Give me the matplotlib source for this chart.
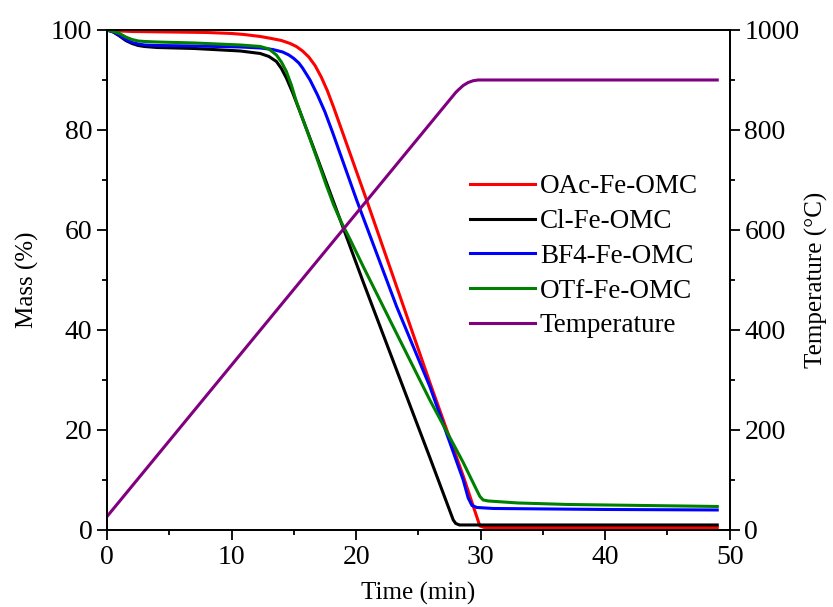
import numpy as np
import matplotlib
matplotlib.use("Agg")
import matplotlib.pyplot as plt
from matplotlib.ticker import MultipleLocator

plt.rcParams["font.family"] = ["Liberation Serif", "DejaVu Serif"]

# TGA curves (time in min, mass in %)
t_oac = [0, 1, 2, 5, 8, 10, 11, 12.3, 13.2, 14.0, 14.7, 15.2, 15.7, 16.2, 16.7,
         17.2, 17.7, 18.2, 18.9, 20.84, 23.25, 25.92, 28.6, 29.6, 29.94, 30.3, 40, 49]
m_oac = [100, 99.8, 99.7, 99.6, 99.5, 99.3, 99.1, 98.7, 98.3, 97.9, 97.3, 96.7, 95.8, 94.6, 92.9,
         90.6, 87.8, 84.5, 79.6, 66.0, 48.7, 29.5, 10.8, 3.3, 0.8, 0.5, 0.5, 0.5]

t_cl = [0, 0.5, 1, 1.5, 2, 2.5, 3, 4, 7, 10.7, 12.3, 13.0, 13.6, 14.0, 14.4, 14.9,
        15.5, 16.5, 18.43, 20.57, 23.25, 25.92, 27.8, 28.0, 28.3, 30, 40, 49]
m_cl = [100, 99.6, 98.8, 97.9, 97.3, 96.9, 96.7, 96.5, 96.3, 95.8, 95.3, 94.7, 93.7, 92.3, 90.4, 87.5,
        83.6, 77.0, 64.0, 49.6, 32.0, 14.5, 2.0, 1.3, 1.0, 1.0, 1.0, 1.0]

t_bf4 = [0, 0.5, 1, 1.5, 2, 2.5, 3, 4, 7, 10.7, 12.3, 13.3, 14.1, 14.6, 15.0, 15.4, 15.7,
         16.3, 16.9, 17.5, 18.1, 20.04, 23.25, 25.92, 28.6, 29.0, 29.3, 29.7, 31, 40, 49]
m_bf4 = [100, 99.6, 98.9, 98.1, 97.5, 97.2, 97.0, 96.9, 96.8, 96.6, 96.4, 96.1, 95.6, 95.0, 94.3, 93.4, 92.4,
         90.0, 87.0, 83.6, 79.6, 66.0, 44.7, 28.7, 10.0, 6.4, 4.9, 4.5, 4.3, 4.1, 4.0]

t_otf = [0, 0.5, 1, 1.5, 2, 2.5, 3, 4, 7, 10.7, 12.3, 13.0, 13.6, 14.0, 14.4, 14.8,
         15.2, 16.3, 17.0, 17.6, 18.2, 18.8, 19.5, 20.57, 23.25, 25.92, 28.6, 29.6, 29.94, 30.2, 30.6,
         33, 37, 49]
m_otf = [100, 99.7, 99.3, 98.6, 98.1, 97.8, 97.7, 97.6, 97.4, 97.0, 96.7, 96.2, 95.0, 93.6, 91.7, 89.0,
         85.7, 78.2, 73.3, 69.0, 65.0, 61.6, 58.2, 52.7, 39.3, 26.0, 13.5, 8.4, 6.7, 6.0, 5.8,
         5.4, 5.1, 4.7]

t_temp = [0, 28, 28.2, 28.6, 29.0, 29.4, 29.8, 30.5, 49]
temp = [27, 875, 880, 889, 895, 898.5, 900, 900, 900]

fig = plt.figure(figsize=(8.33, 6.07), dpi=100)
ax = fig.add_axes([0.1285, 0.1269, 0.7475, 0.8237])
ax2 = ax.twinx()

lw = 2.2
h1, = ax.plot(t_oac, m_oac, color="red", lw=lw, label="OAc-Fe-OMC")
h2, = ax.plot(t_cl, m_cl, color="black", lw=lw, label="Cl-Fe-OMC")
h3, = ax.plot(t_bf4, m_bf4, color="blue", lw=lw, label="BF4-Fe-OMC")
h4, = ax.plot(t_otf, m_otf, color="#008000", lw=lw, label="OTf-Fe-OMC")
h5, = ax2.plot(t_temp, temp, color="#800080", lw=lw, label="Temperature")

ax.set_xlim(0, 50)
ax.set_ylim(0, 100)
ax2.set_ylim(0, 1000)

ax.xaxis.set_major_locator(MultipleLocator(10))
ax.xaxis.set_minor_locator(MultipleLocator(5))
ax.yaxis.set_major_locator(MultipleLocator(20))
ax.yaxis.set_minor_locator(MultipleLocator(10))
ax2.yaxis.set_major_locator(MultipleLocator(200))
ax2.yaxis.set_minor_locator(MultipleLocator(100))

for a in (ax, ax2):
    a.tick_params(which="major", direction="out", length=7, width=1.3, labelsize=20)
    a.tick_params(which="minor", direction="out", length=3.5, width=1.3)
    for s in a.spines.values():
        s.set_linewidth(1.3)

ax.set_xlabel("Time (min)", fontsize=18, labelpad=9)
ax.set_ylabel("Mass (%)", fontsize=18, labelpad=9)
ax2.set_ylabel("Temperature (\u00b0C)", fontsize=18, labelpad=4)

ax.legend(handles=[h1, h2, h3, h4, h5], loc="upper left",
          bbox_to_anchor=(0.543, 0.76), frameon=False, fontsize=19.5,
          handlelength=2.4, handletextpad=0.2, labelspacing=0.36)

fig.savefig("out.png", dpi=100)
